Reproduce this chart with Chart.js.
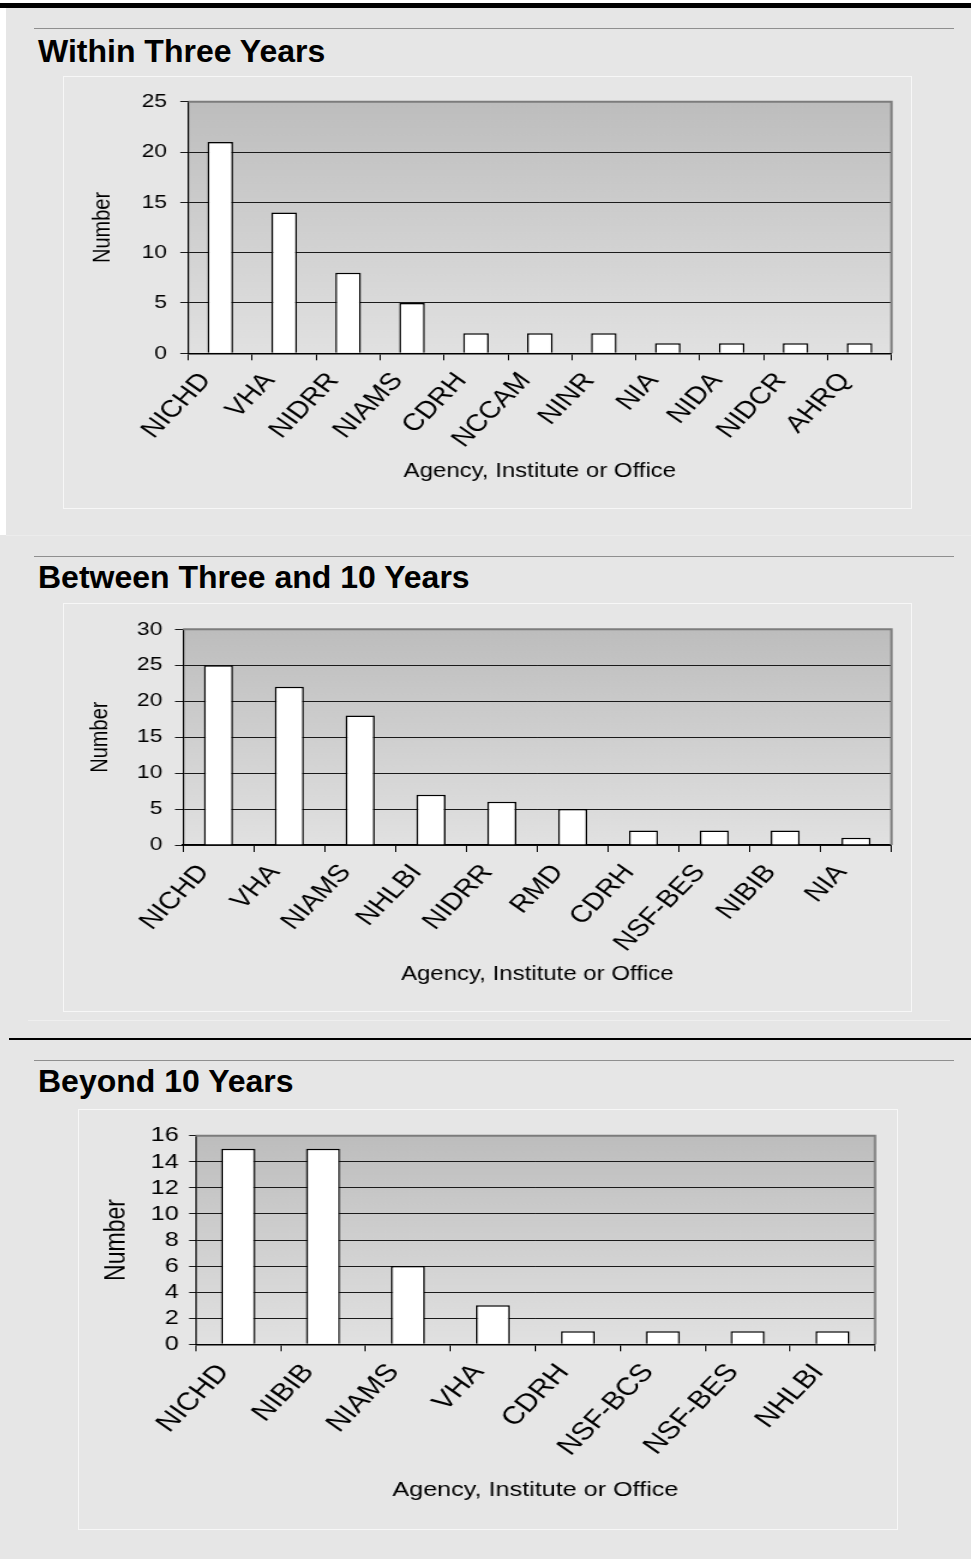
<!DOCTYPE html>
<html>
<head>
<meta charset="utf-8">
<script src="https://cdn.jsdelivr.net/npm/chart.js@4.4.1/dist/chart.umd.min.js"></script>
<style>
    body { margin: 0; width: 971px; height: 1559px; background: #e6e6e6; position: relative; overflow: hidden; font-family: "Liberation Sans", Arial, sans-serif; }
    .abs { position: absolute; }
    .rule { position: absolute; left: 34px; width: 920px; height: 1px; background: #8f8f8f; }
    .title { position: absolute; left: 38px; font-size: 32px; line-height: 32px; font-weight: bold; color: #000; white-space: nowrap; }
    .box { position: absolute; border: 1px solid #f7f7f7; box-sizing: border-box; }
    canvas { position: absolute; }
</style>
</head>
<body>
<div class="abs" style="left:0;top:0;width:971px;height:3px;background:#fff"></div>
<div class="abs" style="left:0;top:3px;width:971px;height:5px;background:#000"></div>
<div class="abs" style="left:0;top:8px;width:6px;height:527px;background:#fff"></div>

<div class="rule" style="top:28px"></div>
<div class="title" style="top:35px">Within Three Years</div>
<div class="box" style="left:63px;top:76px;width:849px;height:433px"></div>
<canvas id="within3" width="706" height="431" style="left:64px;top:77px;width:847px;height:431px"></canvas>

<div class="abs" style="left:6px;top:535px;width:965px;height:1px;background:#ececec"></div>
<div class="rule" style="top:556px"></div>
<div class="title" style="top:561px">Between Three and 10 Years</div>
<div class="box" style="left:63px;top:603px;width:849px;height:409px"></div>
<canvas id="between3and10" width="706" height="407" style="left:64px;top:604px;width:847px;height:407px"></canvas>

<div class="abs" style="left:28px;top:1020px;width:922px;height:1px;background:#efefef"></div>
<div class="abs" style="left:9px;top:1038px;width:962px;height:2px;background:#000"></div>
<div class="rule" style="top:1060px"></div>
<div class="title" style="top:1065px">Beyond 10 Years</div>
<div class="box" style="left:78px;top:1109px;width:820px;height:421px"></div>
<canvas id="beyond10" width="682" height="419" style="left:79px;top:1110px;width:818px;height:419px"></canvas>

<script>
// Within three years
const within3Labels = ["NICHD", "VHA", "NIDRR", "NIAMS", "CDRH", "NCCAM", "NINR", "NIA", "NIDA", "NIDCR", "AHRQ"];
const within3Values = [21, 14, 8, 5, 2, 2, 2, 1, 1, 1, 1];
const within3Ticks = [0, 5, 10, 15, 20, 25];

// Between three and 10 years
const between3and10Labels = ["NICHD", "VHA", "NIAMS", "NHLBI", "NIDRR", "RMD", "CDRH", "NSF-BES", "NIBIB", "NIA"];
const between3and10Values = [25, 22, 18, 7, 6, 5, 2, 2, 2, 1];
const between3and10Ticks = [0, 5, 10, 15, 20, 25, 30];

// Beyond 10 years
const beyond10Labels = ["NICHD", "NIBIB", "NIAMS", "VHA", "CDRH", "NSF-BCS", "NSF-BES", "NHLBI"];
const beyond10Values = [15, 15, 6, 3, 1, 1, 1, 1];
const beyond10Ticks = [0, 2, 4, 6, 8, 10, 12, 14, 16];

const FONT = "'Liberation Sans', Arial, sans-serif";

// shaded plot area with grey top/right frame
const plotBackground = {
    id: "plotBackground",
    beforeDraw(chart) {
        const { ctx, chartArea: a } = chart;
        const g = ctx.createLinearGradient(0, a.top, 0, a.bottom);
        g.addColorStop(0, "#bdbdbd");
        g.addColorStop(1, "#e1e1e1");
        ctx.save();
        ctx.fillStyle = g;
        ctx.fillRect(a.left, a.top, a.right - a.left, a.bottom - a.top);
        ctx.restore();
    },
    beforeDatasetsDraw(chart) {
        const { ctx, chartArea: a } = chart;
        ctx.save();
        ctx.strokeStyle = "#7c7c7c";
        ctx.lineWidth = 2;
        ctx.beginPath();
        ctx.moveTo(a.left, a.top);
        ctx.lineTo(a.right, a.top);
        ctx.lineTo(a.right, a.bottom);
        ctx.stroke();
        ctx.restore();
    },
};

function makeChart(id, labels, values, ticks, o) {
    const ctx = document.getElementById(id).getContext("2d");
    return new Chart(ctx, {
        type: "bar",
        data: {
            labels: labels,
            datasets: [
                {
                    data: values,
                    backgroundColor: "#ffffff",
                    borderColor: "#000000",
                    borderWidth: 1.5,
                    barPercentage: o.bar,
                    categoryPercentage: 1,
                },
            ],
        },
        options: {
            responsive: false,
            animation: false,
            devicePixelRatio: 1,
            layout: { padding: { top: o.top, right: o.right, left: 0, bottom: 0 } },
            plugins: { legend: { display: false }, tooltip: { enabled: false } },
            scales: {
                x: {
                    grid: { offset: true, drawOnChartArea: false, drawTicks: true, tickLength: 7, color: "#000", lineWidth: 1 },
                    border: { color: "#000", width: 1.5 },
                    ticks: {
                        color: "#000",
                        font: { family: FONT, size: o.labelSize },
                        minRotation: 50.2,
                        maxRotation: 50.2,
                        autoSkip: false,
                        padding: o.labelPad,
                        labelOffset: o.labelOffset,
                    },
                    title: {
                        display: true,
                        text: "Agency, Institute or Office",
                        color: "#000",
                        font: { family: FONT, size: o.xTitleSize },
                        padding: { top: 0, bottom: o.xTitlePad },
                    },
                    afterFit(scale) {
                        scale.height = o.xHeight;
                    },
                },
                y: {
                    min: ticks[0],
                    max: ticks[ticks.length - 1],
                    afterBuildTicks(scale) {
                        scale.ticks = ticks.map((v) => ({ value: v }));
                    },
                    grid: { color: "#1a1a1a", lineWidth: 1, drawTicks: true, tickLength: o.yTick },
                    border: { color: "#000", width: 1.2 },
                    ticks: {
                        color: "#000",
                        font: { family: FONT, size: o.tickSize },
                        padding: o.tickPad,
                        autoSkip: false,
                    },
                    title: {
                        display: true,
                        text: "Number",
                        color: "#000",
                        font: { family: FONT, size: o.yTitleSize },
                        padding: { top: o.yTitlePad, bottom: 0 },
                    },
                    afterFit(scale) {
                        scale.width = o.yWidth;
                    },
                },
            },
        },
        plugins: [plotBackground],
    });
}

makeChart("within3", within3Labels, within3Values, within3Ticks, {
    bar: 0.4, top: 24.7, right: 16.3, yWidth: 103.6, xHeight: 154.7,
    tickSize: 19, tickPad: 11, yTick: 6.7, labelSize: 24, labelPad: 7, labelOffset: -12,
    xTitleSize: 20, xTitlePad: 25, yTitleSize: 20, yTitlePad: 20,
});

makeChart("between3and10", between3and10Labels, between3and10Values, between3and10Ticks, {
    bar: 0.41, top: 25.3, right: 16.3, yWidth: 99.2, xHeight: 166,
    tickSize: 19, tickPad: 10.5, yTick: 6.7, labelSize: 24, labelPad: 7, labelOffset: -12,
    xTitleSize: 20, xTitlePad: 25, yTitleSize: 20, yTitlePad: 18,
});

makeChart("beyond10", beyond10Labels, beyond10Values, beyond10Ticks, {
    bar: 0.4, top: 25.7, right: 18.3, yWidth: 97.3, xHeight: 184.7,
    tickSize: 21, tickPad: 8.5, yTick: 5.6, labelSize: 25, labelPad: 7, labelOffset: -12,
    xTitleSize: 21, xTitlePad: 26, yTitleSize: 23, yTitlePad: 18,
});
</script>
</body>
</html>
